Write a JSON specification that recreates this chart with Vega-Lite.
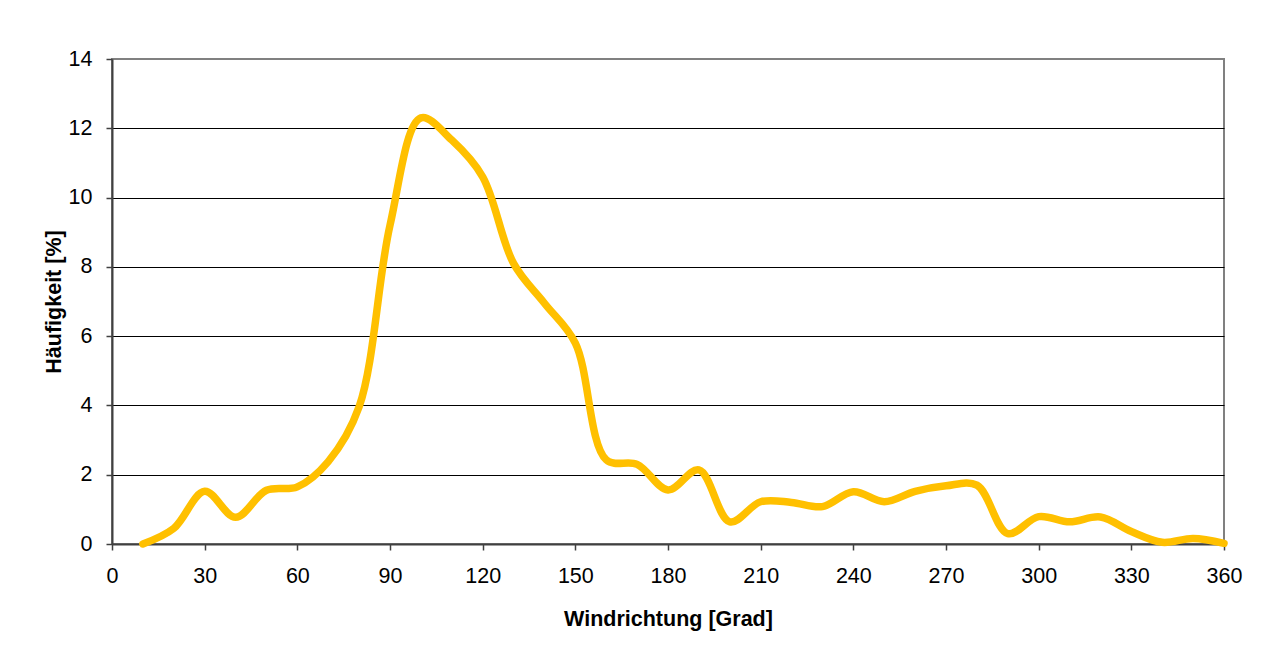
{
  "$schema": "https://vega.github.io/schema/vega-lite/v6.json",
  "autosize": {"type": "none"},
  "padding": {"left": 112, "top": 59, "right": 50, "bottom": 124},
  "width": 1112,
  "height": 485,
  "background": "white",
  "config": {
    "font": "Liberation Sans",
    "view": {"stroke": "#808080", "strokeWidth": 2},
    "axis": {
      "labelFont": "Liberation Sans",
      "titleFont": "Liberation Sans",
      "labelColor": "black",
      "titleColor": "black",
      "labelFontSize": 21.5,
      "titleFontSize": 21.5,
      "titleFontWeight": "bold",
      "labelFlush": false,
      "labelOverlap": false,
      "domainColor": "#404040",
      "domainWidth": 2,
      "tickColor": "#404040",
      "tickWidth": 1.5,
      "tickSize": 6,
      "gridColor": "black",
      "gridWidth": 1,
      "gridOpacity": 1
    }
  },
  "data": {
    "values": [
      {"richtung": 10, "haeufigkeit": 0.0},
      {"richtung": 20, "haeufigkeit": 0.45},
      {"richtung": 30, "haeufigkeit": 1.52},
      {"richtung": 40, "haeufigkeit": 0.77},
      {"richtung": 50, "haeufigkeit": 1.55},
      {"richtung": 60, "haeufigkeit": 1.65},
      {"richtung": 70, "haeufigkeit": 2.38},
      {"richtung": 80, "haeufigkeit": 3.96},
      {"richtung": 90, "haeufigkeit": 9.2},
      {"richtung": 100, "haeufigkeit": 12.3},
      {"richtung": 110, "haeufigkeit": 11.66},
      {"richtung": 120, "haeufigkeit": 10.6},
      {"richtung": 130, "haeufigkeit": 8.1},
      {"richtung": 140, "haeufigkeit": 6.95},
      {"richtung": 150, "haeufigkeit": 5.8},
      {"richtung": 160, "haeufigkeit": 2.43},
      {"richtung": 170, "haeufigkeit": 2.3},
      {"richtung": 180, "haeufigkeit": 1.56},
      {"richtung": 190, "haeufigkeit": 2.14},
      {"richtung": 200, "haeufigkeit": 0.64},
      {"richtung": 210, "haeufigkeit": 1.22},
      {"richtung": 220, "haeufigkeit": 1.2},
      {"richtung": 230, "haeufigkeit": 1.08},
      {"richtung": 240, "haeufigkeit": 1.51},
      {"richtung": 250, "haeufigkeit": 1.22},
      {"richtung": 260, "haeufigkeit": 1.52},
      {"richtung": 270, "haeufigkeit": 1.68},
      {"richtung": 280, "haeufigkeit": 1.7},
      {"richtung": 290, "haeufigkeit": 0.3},
      {"richtung": 300, "haeufigkeit": 0.79},
      {"richtung": 310, "haeufigkeit": 0.64},
      {"richtung": 320, "haeufigkeit": 0.78},
      {"richtung": 330, "haeufigkeit": 0.36},
      {"richtung": 340, "haeufigkeit": 0.05},
      {"richtung": 350, "haeufigkeit": 0.16},
      {"richtung": 360, "haeufigkeit": 0.02}
    ]
  },
  "mark": {
    "type": "line",
    "interpolate": "catmull-rom",
    "color": "#FFC000",
    "strokeWidth": 7.5,
    "strokeCap": "round",
    "strokeJoin": "round"
  },
  "encoding": {
    "x": {
      "field": "richtung",
      "type": "quantitative",
      "scale": {"domain": [0, 360], "nice": false},
      "axis": {
        "title": "Windrichtung [Grad]",
        "values": [0, 30, 60, 90, 120, 150, 180, 210, 240, 270, 300, 330, 360],
        "grid": false,
        "labelPadding": 15,
        "titlePadding": 22
      }
    },
    "y": {
      "field": "haeufigkeit",
      "type": "quantitative",
      "scale": {"domain": [0, 14], "nice": false},
      "axis": {
        "title": "Häufigkeit [%]",
        "values": [0, 2, 4, 6, 8, 10, 12, 14],
        "gridColor": {"condition": {"test": "datum.value == 14", "value": "#808080"}, "value": "black"},
        "labelPadding": 14,
        "titlePadding": 3
      }
    }
  }
}
